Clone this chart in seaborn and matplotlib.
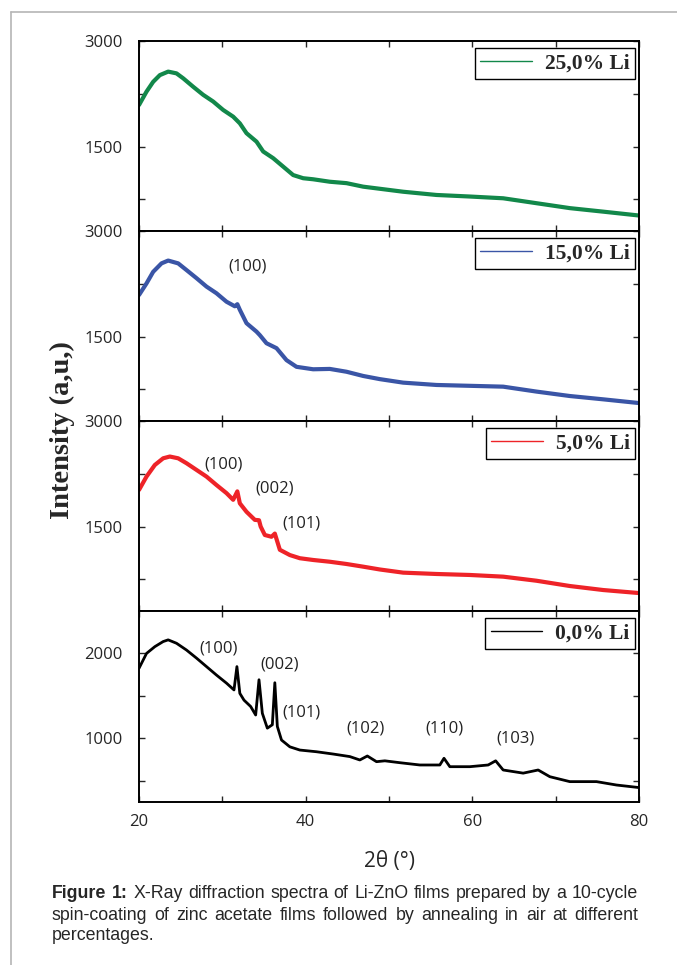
import numpy as np
import pandas as pd
import matplotlib
matplotlib.use("Agg")
import matplotlib.pyplot as plt
from matplotlib.lines import Line2D
import seaborn as sns


# ─── Data (2θ in degrees, intensity in a.u.) ─────────────────────────────────
theta_25 = [20, 20.9, 21.7, 22.5, 23.5, 24.5, 25.3, 26.5, 27.7, 28.9, 30.1, 31.3,
            32.1, 32.9, 34.1, 34.9, 36.1, 37.3, 38.5, 39.7, 40.9, 42.9, 44.9,
            46.9, 48.9, 51.7, 55.7, 59.7, 63.7, 67.7, 71.7, 75.7, 80]
int_25 = [2090, 2280, 2420, 2515, 2565, 2540, 2470, 2350, 2235, 2140, 2020, 1925,
          1830, 1690, 1570, 1430, 1335, 1215, 1095, 1050, 1035, 1000, 980,
          930, 900, 858, 812, 790, 765, 695, 625, 575, 520]

theta_15 = [20, 20.9, 21.7, 22.7, 23.5, 24.7, 25.7, 26.9, 28.1, 29.3, 30.5, 31.5,
            31.8, 32.1, 32.9, 34.1, 34.5, 35.3, 36.5, 37.7, 38.9, 40.9, 42.9,
            44.9, 46.9, 48.9, 51.7, 55.7, 59.7, 63.7, 67.7, 71.7, 75.7, 80]
int_15 = [2090, 2255, 2420, 2540, 2580, 2540, 2445, 2330, 2210, 2115, 1995, 1930,
          1960, 1880, 1690, 1570, 1520, 1405, 1335, 1165, 1070, 1035, 1040,
          1000, 940, 895, 845, 812, 800, 788, 718, 655, 608, 555]

theta_5 = [20, 20.9, 21.9, 22.9, 23.7, 24.7, 25.7, 26.9, 28.1, 29.3, 30.5, 31.3,
           31.8, 32.1, 32.9, 33.9, 34.4, 34.6, 35.1, 35.9, 36.3, 36.9, 38.1,
           39.3, 40.9, 42.9, 44.9, 46.9, 48.9, 51.7, 55.7, 59.7, 63.7, 67.7,
           71.7, 75.7, 80]
int_5 = [2020, 2210, 2375, 2470, 2495, 2470, 2400, 2305, 2210, 2090, 1975, 1880,
         2000, 1830, 1710, 1595, 1590, 1500, 1380, 1355, 1400, 1170, 1095,
         1050, 1025, 1000, 968, 930, 890, 845, 826, 812, 788, 730,
         655, 598, 555]

theta_0 = [20, 20.9, 21.9, 22.9, 23.5, 24.5, 25.7, 26.9, 28.1, 29.3, 30.5, 31.4,
           31.75, 32.1, 32.6, 33.4, 34.0, 34.4, 34.8, 35.4, 36.0, 36.3, 36.6,
           37.1, 38.1, 39.3, 41.3, 43.3, 45.3, 46.5, 47.4, 48.5, 49.5, 51.3,
           53.7, 56.1, 56.6, 57.3, 59.7, 61.9, 62.8, 63.7, 66.1, 67.9, 69.3,
           71.7, 74.9, 77.3, 80]
int_0 = [1825, 2000, 2080, 2140, 2160, 2120, 2040, 1945, 1845, 1745, 1650, 1570,
         1845, 1530, 1450, 1375, 1275, 1690, 1295, 1120, 1160, 1655, 1140,
         980, 900, 862, 842, 815, 785, 745, 792, 725, 735, 713,
         686, 686, 765, 666, 666, 686, 735, 627, 590, 627, 548,
         490, 490, 450, 420]

labels = ["25,0% Li", "15,0% Li", "5,0% Li", "0,0% Li"]
colors = ["#12884a", "#3a55a6", "#ee2328", "#000000"]

# peak labels: (text, 2θ, intensity) per panel
peaks_15 = [("(100)", 33.0, 2490)]
peaks_5 = [("(100)", 30.1, 2375), ("(002)", 36.3, 2035), ("(101)", 39.5, 1545)]
peaks_0 = [("(100)", 29.5, 2060), ("(002)", 36.9, 1865), ("(101)", 39.5, 1300),
           ("(102)", 47.2, 1120), ("(110)", 56.6, 1118), ("(103)", 65.2, 1000)]

series = [(theta_25, int_25), (theta_15, int_15), (theta_5, int_5), (theta_0, int_0)]
peak_sets = [[], peaks_15, peaks_5, peaks_0]


# ─── Figure ───────────────────────────────────────────────────────────────────
sns.set_style("ticks")
plt.rcParams["font.family"] = ["Open Sans", "DejaVu Sans"]

W, H = 677, 965
fig = plt.figure(figsize=(W / 100, H / 100), dpi=100)

left, right = 139 / W, 639 / W
edges = [41, 231, 421, 611, 802]

for i, ((tx, iy), lab, col, pk) in enumerate(zip(series, labels, colors, peak_sets)):
    top, bot = edges[i], edges[i + 1]
    ax = fig.add_axes([left, 1 - bot / H, right - left, (bot - top) / H])
    df = pd.DataFrame({"two_theta": tx, "intensity": iy})
    sns.lineplot(data=df, x="two_theta", y="intensity", ax=ax, color=col,
                 lw=2.0 if i == 3 else 3.0, label=lab)

    ax.set_xlim(20, 80)
    ax.set_xticks([20, 40, 60, 80])
    ax.set_xticks([30, 50, 70], minor=True)
    if i == 3:
        ax.set_ylim(250, 2500)
        ax.set_yticks([1000, 2000])
        ax.set_yticks([500, 1500], minor=True)
    else:
        ax.set_ylim(300, 3000)
        ax.set_yticks([1500, 3000])
        ax.set_yticks([750, 2250], minor=True)

    ax.set_xlabel("")
    ax.set_ylabel("")
    ax.tick_params(which="both", direction="in", top=True, right=True,
                   length=4, width=1, labelsize=12)
    ax.tick_params(axis="y", pad=12)
    ax.tick_params(axis="x", pad=9, labelbottom=(i == 3))
    for s in ax.spines.values():
        s.set_linewidth(1.4)
        s.set_color("black")

    for txt, x, y in pk:
        ax.text(x, y, txt, ha="center", va="center", fontsize=12, color="#222222")

    leg = ax.legend(loc="upper right", bbox_to_anchor=(0.992, 0.962),
                    borderaxespad=0, fancybox=False, framealpha=1,
                    edgecolor="black", handlelength=2.4, handletextpad=0.6,
                    borderpad=0.25,
                    prop={"family": "Liberation Serif", "weight": "bold", "size": 15.5})
    leg.get_frame().set_linewidth(1.0)
    for ln in leg.get_lines():
        ln.set_linewidth(1.0)

# axis titles
fig.text(62 / W, 1 - 430 / H, "Intensity (a,u,)", rotation=90, ha="center",
         va="center", fontsize=20.5, fontweight="bold", family="Liberation Serif")
fig.text(390 / W, 1 - 862 / H, "2θ (°)", ha="center", va="center", fontsize=15)

# page border
fig.add_artist(Line2D([11 / W, 11 / W], [0, 1 - 12 / H], color="#b5b5b5", lw=1.2))
fig.add_artist(Line2D([11 / W, 1], [1 - 12 / H, 1 - 12 / H], color="#b5b5b5", lw=1.2))


# ─── Caption (justified lines) ────────────────────────────────────────────────
CAP_SIZE = 12.8


def justified_line(words, y, x0, x1, n_bold=0):
    renderer = fig.canvas.get_renderer()
    items = [fig.text(0, y, w, fontsize=CAP_SIZE, family="Liberation Sans",
                      fontweight="bold" if k < n_bold else "normal", va="center")
             for k, w in enumerate(words)]
    widths = [t.get_window_extent(renderer).width for t in items]
    gap = ((x1 - x0) * W - sum(widths)) / (len(words) - 1)
    x = x0 * W
    for t, w in zip(items, widths):
        t.set_x(x / W)
        x += w + gap


cap_x0, cap_x1 = 52 / W, 638 / W
justified_line("Figure 1: X-Ray diffraction spectra of Li-ZnO films prepared by a 10-cycle".split(),
               1 - 893 / H, cap_x0, cap_x1, n_bold=2)
justified_line("spin-coating of zinc acetate films followed by annealing in air at different".split(),
               1 - 915 / H, cap_x0, cap_x1)
fig.text(cap_x0, 1 - 936 / H, "percentages.", fontsize=CAP_SIZE, family="Liberation Sans",
         va="center")

fig.savefig("out.png", dpi=100)
plt.close(fig)
